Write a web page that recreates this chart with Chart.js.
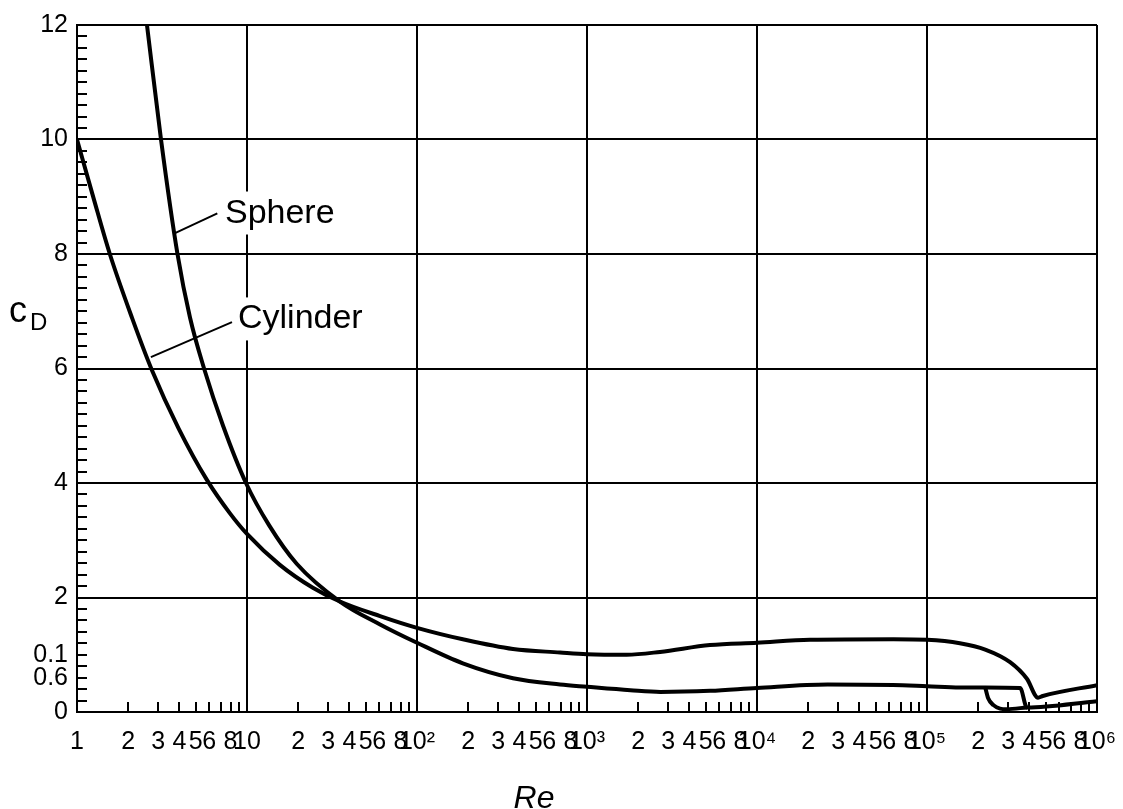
<!DOCTYPE html>
<html>
<head>
<meta charset="utf-8">
<script src="https://cdn.jsdelivr.net/npm/chart.js@4.4.0/dist/chart.umd.min.js"></script>
<style>
    html, body { margin: 0; padding: 0; background: #fff; }
    canvas { display: block; }
</style>
</head>
<body>
<canvas id="cd-chart" width="1123" height="809"></canvas>
<script>
    // Drag coefficient c_D against Reynolds number
    const sphereRe = [2.58, 3.12, 3.90, 4.62, 5.59, 7.23, 9.86, 13.5, 19.6, 35.2, 60.6, 100, 186, 367, 694, 1000,
                      1800, 2700, 5300, 1e4, 2.6e4, 6.3e4, 1e5, 1.56e5, 2.2e5, 3.53e5, 3.87e5, 1e6];
    const sphereCd = [12.0, 10.0, 8.0, 6.89, 6.0, 5.0, 4.0, 3.26, 2.59, 1.93, 1.53, 1.21, 0.85, 0.59, 0.48, 0.44,
                      0.38, 0.35, 0.37, 0.42, 0.48, 0.47, 0.45, 0.43, 0.43, 0.42, 0.08, 0.19];

    // second (early) drop of the sphere curve near Re = 2e5
    const sphereBranchRe = [2.2e5, 2.29e5, 2.46e5, 2.69e5, 2.94e5, 3.87e5];
    const sphereBranchCd = [0.43, 0.24, 0.12, 0.06, 0.05, 0.08];

    const cylinderRe = [1, 1.25, 1.56, 2.11, 2.76, 3.95, 5.82, 7.94, 10, 15.6, 24.4, 35.2, 60.6, 100, 186, 367, 694,
                        1000, 1712, 2690, 5290, 1e4, 2.05e4, 6.34e4, 1e5, 1.56e5, 2.2e5, 3.08e5, 3.87e5, 4.5e5, 4.8e5, 1e6];
    const cylinderCd = [10.0, 8.98, 8.0, 6.88, 5.97, 4.96, 4.05, 3.47, 3.11, 2.57, 2.17, 1.93, 1.675, 1.47, 1.27, 1.10, 1.04,
                        1.01, 1.0, 1.05, 1.17, 1.21, 1.26, 1.27, 1.26, 1.20, 1.09, 0.87, 0.58, 0.25, 0.28, 0.47];

    // x axis: a tick at every 1..9 x 10^n, labels as printed on the figure
    const xDecades = [1, 10, 100, 1000, 1e4, 1e5];
    const xMantissas = [1, 2, 3, 4, 5, 6, 7, 8, 9];
    const xTickLabels = [
        '1', '2', '3', '4', '5', '6', '', '8', '',
        '10', '2', '3', '4', '5', '6', '', '8', '',
        '10²', '2', '3', '4', '5', '6', '', '8', '',
        '10³', '2', '3', '4', '5', '6', '', '8', '',
        '10⁴', '2', '3', '4', '5', '6', '', '8', '',
        '10⁵', '2', '3', '4', '5', '6', '', '8', '',
        '10⁶'
    ];

    // y axis: minor ticks every 0.2, grid every 2, labels as printed
    const yMinorStep = 0.2;
    const yMax = 12;
    const yLabelValues = [0, 0.6, 1, 2, 4, 6, 8, 10, 12];
    const yLabelTexts = ['0', '0.6', '0.1', '2', '4', '6', '8', '10', '12'];

    // curve labels: text start / baseline, and leader line ends (data units)
    const curveLabels = ['Sphere', 'Cylinder'];
    const curveLabelRe = [7.42, 8.85];
    const curveLabelCd = [8.55, 6.70];
    const leaderFromRe = [3.80, 2.72];
    const leaderFromCd = [8.37, 6.20];
    const leaderToRe = [6.69, 8.16];
    const leaderToCd = [8.71, 6.81];

    const FONT = '"Liberation Sans", Arial, Helvetica, sans-serif';

    const xTickValues = [];
    xDecades.forEach(d => xMantissas.forEach(m => xTickValues.push(m * d)));
    xTickValues.push(1e6);

    const yTickValues = [];
    for (let i = 0; i <= Math.round(yMax / yMinorStep); i++) {
        yTickValues.push(Math.round(i * yMinorStep * 10) / 10);
    }

    function isDecade(v) {
        const l = Math.log10(v);
        return Math.abs(l - Math.round(l)) < 1e-9;
    }

    function toPoints(xs, ys) {
        return xs.map((x, i) => ({ x: x, y: ys[i] }));
    }

    function curve(label, xs, ys) {
        return {
            label: label,
            data: toPoints(xs, ys),
            borderColor: '#000',
            borderWidth: 4,
            pointRadius: 0,
            fill: false,
            cubicInterpolationMode: 'monotone'
        };
    }

    // Labels, leader lines and axis titles drawn on top
    const labelPlugin = {
        id: 'labels',
        afterDraw(chart) {
            const ctx = chart.ctx;
            const xs = chart.scales.x;
            const ys = chart.scales.y;
            ctx.save();

            ctx.strokeStyle = '#000';
            ctx.lineWidth = 2;
            for (let i = 0; i < curveLabels.length; i++) {
                ctx.beginPath();
                ctx.moveTo(xs.getPixelForValue(leaderFromRe[i]), ys.getPixelForValue(leaderFromCd[i]));
                ctx.lineTo(xs.getPixelForValue(leaderToRe[i]), ys.getPixelForValue(leaderToCd[i]));
                ctx.stroke();
            }

            ctx.font = '34px ' + FONT;
            ctx.textBaseline = 'alphabetic';
            ctx.textAlign = 'left';
            for (let i = 0; i < curveLabels.length; i++) {
                const px = xs.getPixelForValue(curveLabelRe[i]);
                const py = ys.getPixelForValue(curveLabelCd[i]);
                const w = ctx.measureText(curveLabels[i]).width;
                ctx.fillStyle = '#fff';
                ctx.fillRect(px - 4, py - 31, w + 8, 43);
                ctx.fillStyle = '#000';
                ctx.fillText(curveLabels[i], px, py);
            }

            // y title c_D
            ctx.font = '36px ' + FONT;
            ctx.fillText('c', 9, 322);
            ctx.font = '24px ' + FONT;
            ctx.fillText('D', 30, 330);

            // x title Re
            ctx.font = 'italic 32px ' + FONT;
            ctx.textAlign = 'center';
            ctx.fillText('Re', 534, 808);

            ctx.restore();
        }
    };

    function drawChart() {
        const ctx = document.getElementById('cd-chart').getContext('2d');

        new Chart(ctx, {
            type: 'line',
            data: {
                datasets: [
                    curve('Sphere', sphereRe, sphereCd),
                    curve('Sphere (early drop)', sphereBranchRe, sphereBranchCd),
                    curve('Cylinder', cylinderRe, cylinderCd)
                ]
            },
            options: {
                responsive: false,
                animation: false,
                devicePixelRatio: 1,
                layout: { padding: { top: 25, right: 26, bottom: 0, left: 0 } },
                plugins: {
                    legend: { display: false },
                    tooltip: { enabled: false }
                },
                scales: {
                    x: {
                        type: 'logarithmic',
                        min: 1,
                        max: 1e6,
                        afterBuildTicks: s => { s.ticks = xTickValues.map(v => ({ value: v })); },
                        afterFit: s => {
                            // fixed axis band, no extra room for overhanging labels
                            s.height = 97;
                            s.paddingLeft = 0;
                            s.paddingRight = 0;
                        },
                        grid: {
                            color: c => (c.tick && isDecade(c.tick.value)) ? '#000' : 'rgba(0,0,0,0)',
                            lineWidth: 2,
                            drawTicks: true,
                            tickLength: -10,
                            tickWidth: 2,
                            tickColor: '#000'
                        },
                        border: { display: true, color: '#000', width: 2 },
                        ticks: {
                            autoSkip: false,
                            maxRotation: 0,
                            minRotation: 0,
                            padding: 25,
                            color: '#000',
                            font: { family: FONT, size: 25 },
                            callback: (v, i) => xTickLabels[i]
                        }
                    },
                    y: {
                        type: 'linear',
                        min: 0,
                        max: yMax,
                        afterBuildTicks: s => { s.ticks = yTickValues.map(v => ({ value: v })); },
                        afterFit: s => {
                            s.width = 77;
                            s.paddingTop = 0;
                            s.paddingBottom = 0;
                        },
                        grid: {
                            color: c => (c.tick && Math.abs(c.tick.value % 2) < 1e-6) ? '#000' : 'rgba(0,0,0,0)',
                            lineWidth: 2,
                            drawTicks: true,
                            tickLength: -10,
                            tickWidth: 2,
                            tickColor: '#000'
                        },
                        border: { display: true, color: '#000', width: 2 },
                        ticks: {
                            autoSkip: false,
                            padding: 19,
                            color: '#000',
                            font: { family: FONT, size: 25 },
                            callback: v => {
                                const k = yLabelValues.findIndex(l => Math.abs(l - v) < 1e-6);
                                return k >= 0 ? yLabelTexts[k] : '';
                            }
                        }
                    }
                }
            },
            plugins: [labelPlugin]
        });
    }

    window.onload = drawChart;
</script>
</body>
</html>
